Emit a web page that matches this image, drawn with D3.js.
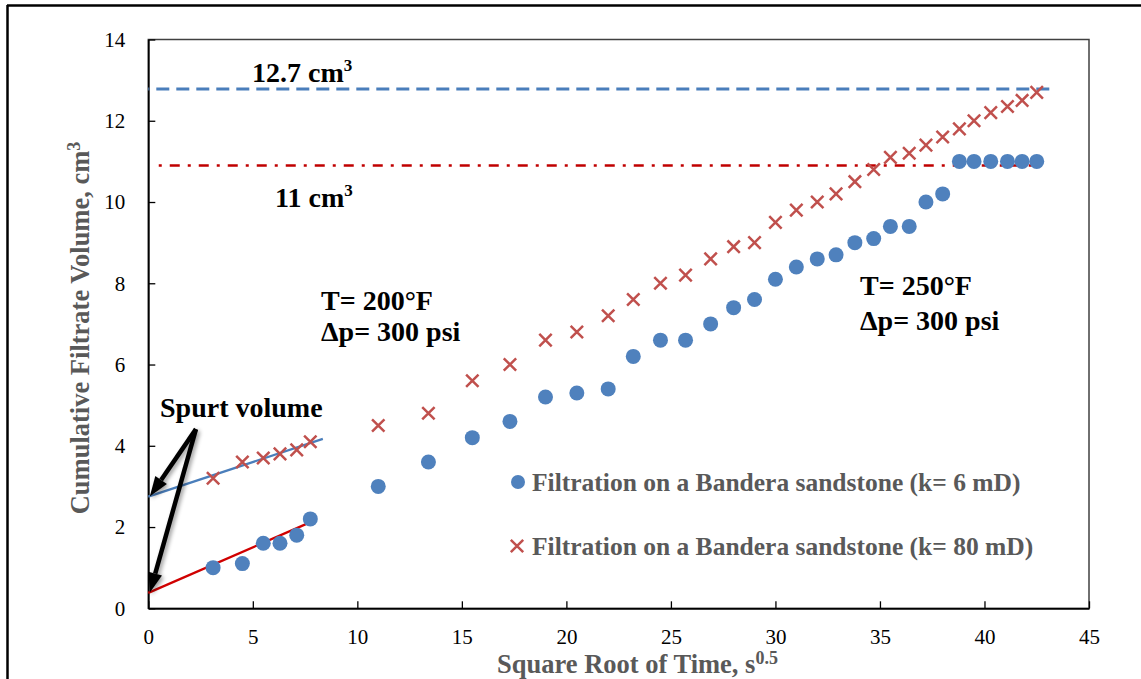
<!DOCTYPE html>
<html>
<head>
<meta charset="utf-8">
<script src="https://cdn.jsdelivr.net/npm/d3@7"></script>
<style>
html,body{margin:0;padding:0;background:#fff;}
svg{display:block;font-family:"Liberation Serif","Times New Roman",serif;}
</style>
</head>
<body>
<svg id="chart" width="1141" height="679"></svg>
<script>
// ---- data ----
const timeK6 = [3.1,4.5,5.5,6.3,7.1,7.75,11.0,13.4,15.5,17.3,19.0,20.5,22.0,23.2,24.5,25.7,26.9,28.0,29.0,30.0,31.0,32.0,32.9,33.8,34.7,35.5,36.4,37.2,38.0,38.8,39.5,40.3,41.1,41.8,42.5];
const volK6  = [1.0,1.1,1.6,1.6,1.8,2.2,3.0,3.6,4.2,4.6,5.2,5.3,5.4,6.2,6.6,6.6,7.0,7.4,7.6,8.1,8.4,8.6,8.7,9.0,9.1,9.4,9.4,10.0,10.2,11.0,11.0,11.0,11.0,11.0,11.0];
const timeK80 = [3.1,4.5,5.5,6.3,7.1,7.75,11.0,13.4,15.5,17.3,19.0,20.5,22.0,23.2,24.5,25.7,26.9,28.0,29.0,30.0,31.0,32.0,32.9,33.8,34.7,35.5,36.4,37.2,38.0,38.8,39.5,40.3,41.1,41.8,42.5];
const volK80  = [3.2,3.6,3.7,3.8,3.9,4.1,4.5,4.8,5.6,6.0,6.6,6.8,7.2,7.6,8.0,8.2,8.6,8.9,9.0,9.5,9.8,10.0,10.2,10.5,10.8,11.1,11.2,11.4,11.6,11.8,12.0,12.2,12.35,12.5,12.7];
const trendK80X = [0, 8.35], trendK80Y = [2.75, 4.17];
const trendK6X  = [0, 7.98], trendK6Y  = [0.38, 2.17];
const limitK80X = [0, 43.3], limitK80Y = 12.78;
const limitK6X  = [0.5, 42.3], limitK6Y = 10.9;
const xTicks = [0,5,10,15,20,25,30,35,40,45];
const yTicks = [0,2,4,6,8,10,12,14];
const seriesNames = ["Filtration on a Bandera sandstone (k= 6 mD)", "Filtration on a Bandera sandstone (k= 80 mD)"];
const arrowFrom = [2.28, 4.41];
const arrowTips = [[0, 2.75], [0, 0.38]];

// ---- layout ----
const svg = d3.select("#chart");
const L = 148.3, R = 1089, T = 39.5, B = 608.3;
const x = d3.scaleLinear().domain([0,45]).range([L,R]);
const y = d3.scaleLinear().domain([0,14]).range([B,T]);
const blue = "#4f81bd", red = "#c0504d", gray = "#595959";
const serif = '"Liberation Serif","Times New Roman",serif';

// outer frame
svg.append("line").attr("x1",7).attr("x2",1141).attr("y1",5.5).attr("y2",5.5).attr("stroke","#000").attr("stroke-width",2.5);
svg.append("line").attr("x1",7.5).attr("x2",7.5).attr("y1",5).attr("y2",679).attr("stroke","#000").attr("stroke-width",2.5);

// plot border
svg.append("rect").attr("x",L).attr("y",T).attr("width",R-L).attr("height",B-T)
  .attr("fill","none").attr("stroke","#404040").attr("stroke-width",1.5);

// axes
const fontTick = 21;
const ax = svg.append("g").attr("transform",`translate(0,${B})`)
  .call(d3.axisBottom(x).tickValues(xTicks).tickSizeInner(-7).tickSizeOuter(0).tickPadding(21));
const ay = svg.append("g").attr("transform",`translate(${L},0)`)
  .call(d3.axisLeft(y).tickValues(yTicks).tickSizeInner(-7).tickSizeOuter(0).tickPadding(23));
[ax,ay].forEach(g=>{
  g.attr("font-family",serif);
  g.select(".domain").attr("stroke","#000").attr("stroke-width",1.8);
  g.selectAll(".tick line").attr("stroke","#000").attr("stroke-width",1.3);
  g.selectAll(".tick text").attr("fill","#000").style("font-size",fontTick+"px")
    .style("font-family",serif);
});

// axis titles
const xt = svg.append("text").attr("x",497).attr("y",672.5).attr("fill",gray)
  .style("font-size","26.5px").style("font-weight","bold");
xt.append("tspan").text("Square Root of Time, s");
xt.append("tspan").attr("dy",-9).style("font-size","18px").text("0.5");

const yt = svg.append("text").attr("transform","translate(89,328) rotate(-90)").attr("text-anchor","middle")
  .attr("fill",gray).style("font-size","26.5px").style("font-weight","bold");
yt.append("tspan").text("Cumulative Filtrate Volume, cm");
yt.append("tspan").attr("dy",-9).style("font-size","18px").text("3");

// limit lines
svg.append("line").attr("x1",x(limitK80X[0])).attr("x2",x(limitK80X[1]))
  .attr("y1",y(limitK80Y)).attr("y2",y(limitK80Y))
  .attr("stroke","#4a7ebb").attr("stroke-width",3).attr("stroke-dasharray","13,7").attr("stroke-dashoffset",-8);
svg.append("line").attr("x1",x(limitK6X[0])).attr("x2",x(limitK6X[1]))
  .attr("y1",y(limitK6Y)).attr("y2",y(limitK6Y))
  .attr("stroke","#c00000").attr("stroke-width",2.5).attr("stroke-dasharray","3,8,10,8");

// trend lines
const line = d3.line().x(d=>x(d[0])).y(d=>y(d[1]));
svg.append("path").attr("d",line(d3.zip(trendK80X,trendK80Y))).attr("fill","none")
  .attr("stroke","#4a7ebb").attr("stroke-width",2.3);
svg.append("path").attr("d",line(d3.zip(trendK6X,trendK6Y))).attr("fill","none")
  .attr("stroke","#d00000").attr("stroke-width",2.3);

// markers
svg.append("g").selectAll("circle").data(d3.zip(timeK6,volK6)).join("circle")
  .attr("cx",d=>x(d[0])).attr("cy",d=>y(d[1])).attr("r",7.5).attr("fill",blue);
const xm = "M-6.2,-6.2L6.2,6.2M6.2,-6.2L-6.2,6.2";
svg.append("g").selectAll("path").data(d3.zip(timeK80,volK80)).join("path")
  .attr("d",xm).attr("transform",d=>`translate(${x(d[0])},${y(d[1])})`)
  .attr("stroke",red).attr("stroke-width",2.5).attr("fill","none");

// annotations
function ann(tx,ty,parts){
  const t = svg.append("text").attr("x",tx).attr("y",ty).attr("fill","#000")
    .style("font-size","28px").style("font-weight","bold");
  parts.forEach(p=>{
    const s = t.append("tspan").text(p.t);
    if(p.sup) s.attr("dy",-11).style("font-size","17px");
  });
}
ann(252,82,[{t:"12.7 cm"},{t:"3",sup:true}]);
ann(275,207,[{t:"11 cm"},{t:"3",sup:true}]);
ann(321,310,[{t:"T= 200°F"}]);
ann(321,341,[{t:"Δp= 300 psi"}]);
ann(860,295,[{t:"T= 250°F"}]);
ann(860,330,[{t:"Δp= 300 psi"}]);
ann(160,417,[{t:"Spurt volume"}]);

// arrows
const defs = svg.append("defs");
const f = defs.append("filter").attr("id","sh").attr("x","-50%").attr("y","-50%").attr("width","200%").attr("height","200%");
f.append("feGaussianBlur").attr("in","SourceAlpha").attr("stdDeviation",2).attr("result","b");
f.append("feOffset").attr("in","b").attr("dx",2).attr("dy",2).attr("result","o");
f.append("feComponentTransfer").attr("in","o").attr("result","o2").append("feFuncA").attr("type","linear").attr("slope",0.4);
const fm = f.append("feMerge"); fm.append("feMergeNode").attr("in","o2"); fm.append("feMergeNode").attr("in","SourceGraphic");
const ag = svg.append("g").attr("filter","url(#sh)");
arrowTips.forEach(tip=>{
  const x0 = x(arrowFrom[0]), y0 = y(arrowFrom[1]);
  const x1 = x(tip[0]) + 1.5, y1 = y(tip[1]);
  const ang = Math.atan2(y1-y0, x1-x0);
  const hl = 20, hw = 7;
  const bx = x1 - hl*Math.cos(ang), by = y1 - hl*Math.sin(ang);
  ag.append("line").attr("x1",x0).attr("y1",y0).attr("x2",bx).attr("y2",by)
    .attr("stroke","#000").attr("stroke-width",4.5);
  const px = -Math.sin(ang), py = Math.cos(ang);
  ag.append("path").attr("d",`M${x1},${y1}L${bx+hw*px},${by+hw*py}L${bx-hw*px},${by-hw*py}Z`).attr("fill","#000");
});

// legend
const lg = svg.append("g");
lg.append("circle").attr("cx",518).attr("cy",482).attr("r",7).attr("fill",blue);
lg.append("path").attr("d",xm).attr("transform","translate(517,546)").attr("stroke",red).attr("stroke-width",2.5).attr("fill","none");
lg.selectAll("text").data(seriesNames).join("text")
  .attr("x",532).attr("y",(d,i)=>i===0?491:555).attr("fill",gray)
  .style("font-size","25.5px").style("font-weight","bold").text(d=>d);
</script>
</body>
</html>
